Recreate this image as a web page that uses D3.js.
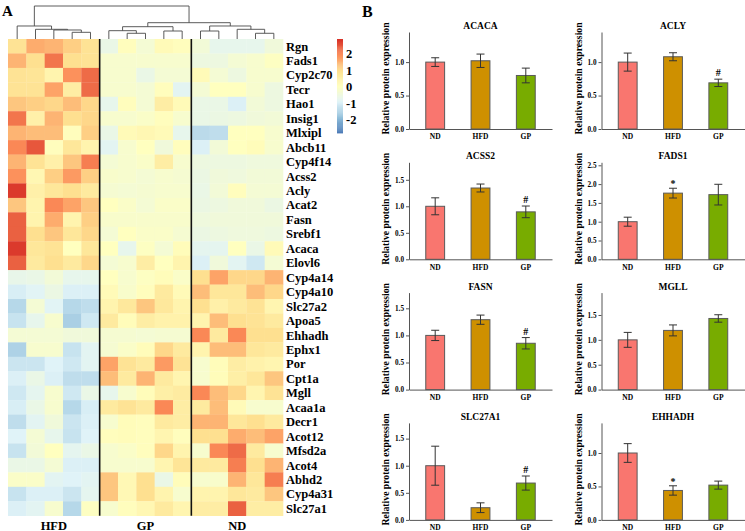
<!DOCTYPE html>
<html><head><meta charset="utf-8">
<script src="https://cdn.jsdelivr.net/npm/d3@7"></script>
<style>
body{margin:0;background:#fff}
svg{display:block}
text{font-family:"Liberation Serif","Times New Roman",serif;font-weight:bold;fill:#000}
</style>
</head><body>
<svg id="chart" width="745" height="531"></svg>
<script>
// ---------- Heatmap data ----------
const genes = ["Rgn","Fads1","Cyp2c70","Tecr","Hao1","Insig1","Mlxipl","Abcb11","Cyp4f14","Acss2","Acly","Acat2","Fasn","Srebf1","Acaca","Elovl6","Cyp4a14","Cyp4a10","Slc27a2","Apoa5","Ehhadh","Ephx1","Por","Cpt1a","Mgll","Acaa1a","Decr1","Acot12","Mfsd2a","Acot4","Abhd2","Cyp4a31","Slc27a1"];
const sampleGroups = ["HFD","HFD","HFD","HFD","HFD","GP","GP","GP","GP","GP","ND","ND","ND","ND","ND"];
const groupLabels = ["HFD","GP","ND"];
const heatValues = [
 [0.9,1.6,1.5,1.2,0.9, -0.6,0.1,-0.3,0.2,0.1, -0.35,-0.7,-0.7,-0.7,-0.4],
 [1.5,1.0,2.2,1.0,0.9, -0.2,-0.2,-0.2,-0.2,-0.2, -0.5,-0.5,-0.3,-0.2,0.0],
 [0.9,0.85,0.4,1.9,2.3, -0.2,-0.2,-0.6,-0.3,-0.3, 0.2,-0.3,-0.5,-0.2,-0.2],
 [0.9,0.9,1.7,0.6,2.3, -0.2,-0.2,-0.3,0.1,-0.8, -0.3,0.05,0.05,-0.2,-0.5],
 [1.3,1.2,1.1,1.4,1.1, -0.7,0.1,-0.3,0.6,0.2, -0.6,-0.6,-0.95,-0.35,-0.5],
 [2.2,0.5,1.5,1.0,1.1, -0.2,-0.2,-0.1,0.1,-0.2, -0.6,-0.55,-0.5,-0.4,-0.35],
 [1.5,1.4,1.4,0.1,1.2, -0.6,0.2,0.3,0.2,-0.7, -1.35,-1.3,0.05,0.05,-0.2],
 [2.0,2.5,0.1,0.8,0.4, -0.8,-0.2,0.05,-0.4,0.1, -0.95,-0.35,0.05,0.15,-0.2],
 [1.5,0.9,0.5,1.3,2.1, -0.3,-0.2,-0.1,0.6,-0.2, -0.5,-0.5,-0.5,-0.45,-0.45],
 [1.9,0.3,1.2,1.8,1.2, -0.15,-0.2,-0.3,-0.2,-0.25, -0.55,-0.4,-0.45,-0.35,-0.35],
 [2.8,0.5,0.8,1.0,0.7, -0.25,-0.3,-0.25,-0.2,-0.2, -0.6,-0.35,0.1,-0.3,-0.3],
 [1.3,0.4,2.0,1.7,1.3, 0.05,-0.1,-0.3,-0.1,-0.1, -0.55,-0.5,-0.4,-0.4,-0.55],
 [2.4,0.4,1.6,0.4,1.2, -0.15,-0.15,-0.15,-0.15,-0.15, -0.45,-0.4,-0.4,-0.4,-0.4],
 [2.4,1.0,1.3,0.8,1.1, -0.3,0.05,-0.1,-0.1,-0.25, -0.55,-0.5,-0.45,-0.45,-0.5],
 [2.8,0.8,0.9,0.05,0.8, 0.05,-0.7,0.0,-0.3,0.15, -0.75,-0.75,0.05,-0.6,0.2],
 [2.4,0.7,1.0,0.7,1.1, -0.3,-0.2,0.6,0.05,0.4, -0.95,-0.4,-0.8,-1.1,-0.3],
 [-0.65,-0.6,-0.35,-0.7,-0.7, 0.05,-0.2,0.0,0.15,-0.1, 1.0,1.7,1.1,1.1,1.5],
 [-1.0,-0.85,-0.55,-0.95,-0.95, 0.2,-0.15,0.1,0.7,0.2, 1.4,0.8,0.8,1.4,1.1],
 [-1.4,-0.3,-0.85,-1.4,-1.3, 0.4,0.75,1.3,0.75,0.4, 1.0,0.5,0.7,0.9,0.35],
 [-1.2,-0.7,-0.2,-1.55,-1.1, 0.7,0.15,0.6,0.45,0.45, 0.4,1.4,1.0,0.9,0.7],
 [-0.3,-0.3,-0.3,-0.4,-0.4, -0.25,-0.25,-0.3,-0.25,-0.25, 2.0,0.7,2.0,1.0,1.0],
 [-1.5,-0.2,-0.2,-1.2,-0.8, -0.25,-0.1,0.15,1.1,0.7, 0.4,1.4,1.4,0.8,0.7],
 [-1.15,-1.15,-0.9,-1.1,-0.8, 1.7,0.9,0.7,1.8,0.9, -0.2,0.15,0.6,0.45,0.35],
 [-0.95,-0.6,-0.95,-1.3,-1.3, 1.4,0.7,1.5,0.7,0.35, -0.2,0.15,0.55,0.8,1.3],
 [-1.1,-0.75,-0.2,-1.1,-0.6, -0.7,-0.2,0.15,0.55,0.65, 2.0,1.4,1.1,0.35,0.9],
 [-1.0,-0.6,-0.2,-1.4,-1.0, 0.7,0.9,0.7,2.0,0.6, 0.7,1.4,0.2,-0.2,-0.2],
 [-1.3,-0.8,-0.4,-1.15,-0.95, -0.2,0.15,0.1,0.7,0.6, 1.5,1.5,0.8,1.0,0.7],
 [-0.9,-0.3,-0.7,-1.2,-0.9, 0.1,0.15,0.1,0.35,0.1, 1.0,1.0,1.6,1.4,1.7],
 [-1.2,-0.35,0.05,-0.75,-0.6, -0.2,-0.1,0.1,1.1,0.4, -0.2,2.0,2.3,0.7,-0.2],
 [-0.6,-0.6,-0.3,-0.95,-0.95, -0.2,-0.2,-0.2,0.35,0.85, 0.7,0.7,2.1,1.0,1.5],
 [-0.1,-0.1,-0.8,-0.9,-0.8, 1.3,0.25,1.0,-0.6,0.15, -0.2,-0.15,1.5,0.8,2.1],
 [-1.2,-0.95,-0.95,-1.15,-0.75, 1.3,0.25,1.0,0.4,-0.2, 0.4,0.4,0.8,0.7,1.3],
 [-0.95,-0.8,-0.2,-1.4,0.0, -0.2,0.1,0.3,0.7,0.35, 0.6,0.6,2.4,0.6,0.6]
];
const legendTicks = [2,1,0,-1,-2];
const colorDomain = [-2.8, 2.9];
// column dendrogram: [mergeHeight, left, right]; leaves are column indices
const colTree = [10,
  [3.94, 0, [2.94, 1, [2.73, 2, [2.03, 3, 4]]]],
  [4.94,
    [3.73, [2.52, 5, [1.73, 6, 7]], [2.42, 8, 9]],
    [3.94, [2.42, 10, 11], [2.94, 12, [1.73, 13, 14]]]]];

// ---------- Bar chart data ----------
const barGenes = ["ACACA","ACLY","ACSS2","FADS1","FASN","MGLL","SLC27A1","EHHADH"];
const barGroups = ["ND","HFD","GP"];
const barMeans = [[1.00,1.02,0.80],[1.00,1.08,0.69],[1.00,1.345,0.895],[1.00,1.76,1.72],[1.00,1.29,0.855],[1.00,1.19,1.43],[1.00,0.225,0.68],[1.00,0.44,0.52]];
const barErrors = [[0.065,0.10,0.11],[0.135,0.06,0.055],[0.16,0.075,0.11],[0.12,0.13,0.275],[0.095,0.085,0.105],[0.15,0.11,0.075],[0.36,0.09,0.13],[0.14,0.07,0.06]];
const barMarks = [["","",""],["","","#"],["","","#"],["","*",""],["","","#"],["","",""],["","","#"],["","*",""]];
const barYMax = [1.45,1.45,1.83,2.58,1.79,1.95,1.79,1.45];
const barTicks = [[0,0.5,1],[0,0.5,1],[0,0.5,1,1.5],[0,0.5,1,1.5,2,2.5],[0,0.5,1,1.5],[0,0.5,1,1.5],[0,0.5,1,1.5],[0,0.5,1]];
const barColors = ["#F9766F","#CE9000","#78AC00"];

const FONT = '"Liberation Serif","Times New Roman",serif';
const svg = d3.select("#chart");

// ================= Panel A: heatmap =================
const hm = {left: 8, right: 283, top: 39, bottom: 515.7};
const xH = d3.scaleBand().domain(d3.range(sampleGroups.length)).range([hm.left, hm.right]);
const yH = d3.scaleBand().domain(genes).range([hm.top, hm.bottom]);
const palette = ["#4575B4","#91BFDB","#E0F3F8","#FFFFBF","#FEE090","#FC8D59","#D73027"];
const color = d3.scaleLinear()
  .domain(d3.range(7).map(i => colorDomain[0] + i*(colorDomain[1]-colorDomain[0])/6))
  .range(palette).clamp(true);

const cells = [];
genes.forEach((g, r) => heatValues[r].forEach((v, c) => cells.push({g, c, v})));
svg.append("g").selectAll("rect").data(cells).join("rect")
  .attr("x", d => xH(d.c)).attr("y", d => yH(d.g))
  .attr("width", xH.bandwidth() + 0.3).attr("height", yH.bandwidth() + 0.3)
  .attr("fill", d => color(d.v));

// group separators
const sepIdx = [];
sampleGroups.forEach((g, i) => { if (i > 0 && g !== sampleGroups[i-1]) sepIdx.push(i); });
svg.append("g").selectAll("line").data(sepIdx).join("line")
  .attr("x1", d => xH(d)).attr("x2", d => xH(d))
  .attr("y1", hm.top).attr("y2", hm.bottom)
  .attr("stroke", "#111").attr("stroke-width", 1.6);

// row labels
svg.append("g").selectAll("text").data(genes).join("text")
  .attr("x", 286).attr("y", d => yH(d) + yH.bandwidth()/2)
  .attr("dy", "0.35em").attr("font-size", 12.5).text(d => d);

// group labels
svg.append("g").selectAll("text").data(groupLabels).join("text")
  .attr("x", g => {
    const idx = sampleGroups.map((s, i) => s === g ? i : -1).filter(i => i >= 0);
    return (xH(idx[0]) + xH(idx[idx.length-1]) + xH.bandwidth())/2;
  })
  .attr("y", 529.5).attr("text-anchor", "middle").attr("font-size", 12.5).text(d => d);

// dendrogram
const yD = d3.scaleLinear().domain([0, 10]).range([hm.top, 6]);
const dg = svg.append("g").attr("fill", "none").attr("stroke", "#4a4a4a").attr("stroke-width", 0.9);
function drawNode(n) {
  if (typeof n === "number") return {x: xH(n) + xH.bandwidth()/2, h: 0};
  const a = drawNode(n[1]), b = drawNode(n[2]);
  const yy = yD(n[0]);
  dg.append("path").attr("d",
    `M${a.x},${yD(a.h)}V${yy}H${b.x}V${yD(b.h)}`);
  return {x: (a.x + b.x)/2, h: n[0]};
}
drawNode(colTree);

// legend
const yL = d3.scaleLinear().domain(colorDomain).range([133, 39]);
const steps = d3.range(0, 100);
svg.append("g").selectAll("rect").data(steps).join("rect")
  .attr("x", 337).attr("width", 6)
  .attr("y", i => yL(colorDomain[0] + (i+1)*(colorDomain[1]-colorDomain[0])/100))
  .attr("height", (yL.range()[0]-yL.range()[1])/100 + 0.4)
  .attr("fill", i => color(colorDomain[0] + (i+0.5)*(colorDomain[1]-colorDomain[0])/100));
svg.append("g").selectAll("text").data(legendTicks).join("text")
  .attr("x", 346).attr("y", d => yL(d)).attr("dy", "0.35em")
  .attr("font-size", 12.5).text(d => d < 0 ? "-" + Math.abs(d) : d);

svg.append("text").attr("x", 2).attr("y", 16).attr("font-size", 15).text("A");
svg.append("text").attr("x", 362).attr("y", 17).attr("font-size", 16).text("B");

// ================= Panel B: bar charts =================
const panelX = [409, 601.5], panelW = 143, panelTop = 32, rowStep = 130.3, panelH = 97;
barGenes.forEach((gene, i) => {
  const col = i % 2, row = Math.floor(i / 2);
  const g = svg.append("g").attr("transform", `translate(${panelX[col]},${panelTop + row*rowStep})`);
  const x = d3.scaleBand().domain(barGroups).range([0, panelW]).paddingInner(0.584).paddingOuter(0.37);
  const y = d3.scaleLinear().domain([0, barYMax[i]]).range([panelH, 0]);
  const data = barGroups.map((grp, k) => ({grp, k, m: barMeans[i][k], e: barErrors[i][k], mark: barMarks[i][k]}));

  // bars
  g.selectAll("rect.bar").data(data).join("rect").attr("class", "bar")
    .attr("x", d => x(d.grp)).attr("width", x.bandwidth())
    .attr("y", d => y(d.m)).attr("height", d => panelH - y(d.m))
    .attr("fill", d => barColors[d.k]).attr("stroke", "#5a5a5a").attr("stroke-width", 1);

  // error bars
  const eb = g.append("g").attr("stroke", "#333").attr("stroke-width", 1);
  data.forEach(d => {
    const cx = x(d.grp) + x.bandwidth()/2;
    eb.append("line").attr("x1", cx).attr("x2", cx).attr("y1", y(d.m + d.e)).attr("y2", y(d.m - d.e));
    eb.append("line").attr("x1", cx-4).attr("x2", cx+4).attr("y1", y(d.m + d.e)).attr("y2", y(d.m + d.e));
    eb.append("line").attr("x1", cx-4).attr("x2", cx+4).attr("y1", y(d.m - d.e)).attr("y2", y(d.m - d.e));
  });

  // significance marks
  g.selectAll("text.mark").data(data.filter(d => d.mark)).join("text").attr("class", "mark")
    .attr("x", d => x(d.grp) + x.bandwidth()/2)
    .attr("y", d => y(d.m + d.e) - (d.mark === "*" ? 1 : 3))
    .attr("text-anchor", "middle").attr("font-size", 10).text(d => d.mark);

  // y axis
  const ya = g.append("g").attr("font-family", FONT)
    .call(d3.axisLeft(y).tickValues(barTicks[i]).tickFormat(d3.format(".1f")).tickSize(3).tickSizeOuter(0).tickPadding(2));
  ya.attr("font-family", FONT);
  ya.select(".domain").attr("stroke", "#555");
  ya.selectAll(".tick line").attr("stroke", "#555");
  ya.selectAll(".tick text").attr("font-size", 7.2);

  // x axis
  const xa = g.append("g").attr("transform", `translate(0,${panelH})`)
    .call(d3.axisBottom(x).tickSize(0).tickPadding(5).tickSizeOuter(0));
  xa.attr("font-family", FONT);
  xa.select(".domain").attr("stroke", "#555");
  xa.selectAll(".tick text").attr("font-size", 7.5);

  // title
  g.append("text").attr("x", panelW/2).attr("y", -3).attr("text-anchor", "middle")
    .attr("font-size", 9.5).text(gene);
  // y title
  g.append("text").attr("transform", `translate(-20,${panelH/2 - 2}) rotate(-90)`)
    .attr("text-anchor", "middle").attr("font-size", 9.7).text("Relative protein expression");
});
</script>
</body></html>
